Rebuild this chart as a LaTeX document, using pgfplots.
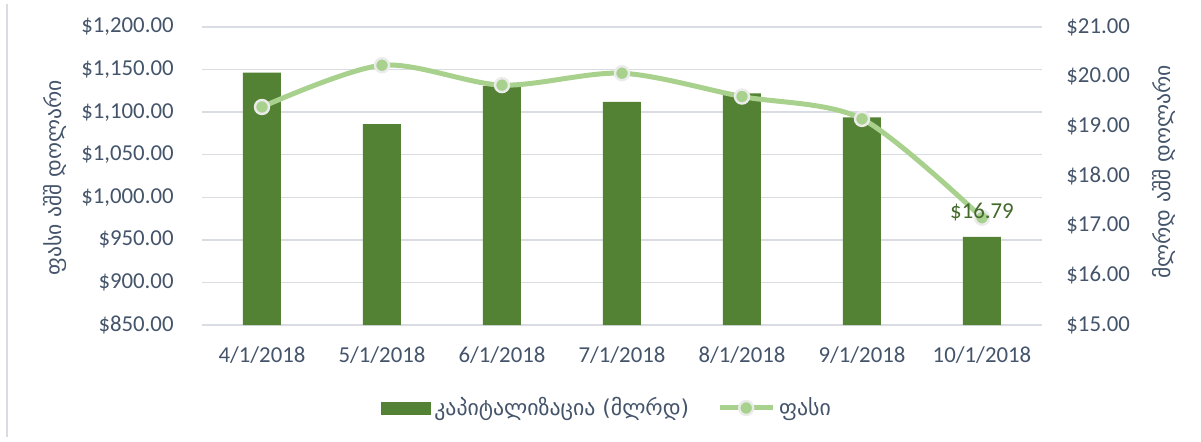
\documentclass[border=0pt]{standalone}
\usepackage{fontspec}
\setmainfont{Carlito}
\newfontfamily\geo{DejaVu Sans}
\usepackage{pgfplots}
\pgfplotsset{compat=1.18}
\definecolor{barc}{HTML}{548235}
\definecolor{lnc}{HTML}{A9D18E}
\definecolor{txt}{HTML}{44546A}
\definecolor{grd}{HTML}{D9DDE3}
\definecolor{lbl}{HTML}{43692B}
\pgfplotsset{
  lineleg/.style={legend image code/.code={\draw[mark repeat=2, mark phase=2, ##1] plot coordinates {(0pt,0pt) (13.25pt,0pt) (26.5pt,0pt)};}},
  barleg/.style={legend image code/.code={\fill[barc] (0pt,-3pt) rectangle (24.5pt,3pt);}},
  common/.style={
    at={(101pt,58pt)}, anchor=south west,
    scale only axis, width=420pt, height=149pt,
    xmin=-0.5, xmax=6.5,
    axis line style={draw=none},
    major tick length=0pt,
    tick label style={font=\fontsize{11.4}{13.5}\selectfont, text=txt},
    /pgf/number format/assume math mode=true,
    clip=false,
  }
}
\begin{document}
\begin{tikzpicture}
\useasboundingbox (0pt,0pt) rectangle (600.5pt,220.5pt);
\draw[grd, line width=0.6pt] (3.5pt,2pt) -- (3.5pt,218.5pt);
\begin{axis}[common,
  ymin=850, ymax=1200, ytick={850,900,...,1200},
  ymajorgrids, grid style={grd, line width=0.75pt},
  xtick={0,...,6},
  xticklabels={4/1/2018,5/1/2018,6/1/2018,7/1/2018,8/1/2018,9/1/2018,10/1/2018},
  xticklabel style={anchor=center, yshift=-15pt},
  yticklabel={\$\pgfmathprintnumber[fixed,fixed zerofill,precision=2,1000 sep={,}]{\tick}},
  yticklabel style={anchor=east, inner sep=0pt, xshift=-14pt},
  ylabel={ფასი აშშ დოლარი},
  ylabel style={at={(axis description cs:-0.175,0.493)}, anchor=center, font=\geo\fontsize{10.8}{12}\selectfont, text=txt},
]
\addplot[ybar, bar width=19pt, fill=barc, draw=none] coordinates {(0,1146.5) (1,1086) (2,1130.5) (3,1112) (4,1122) (5,1094) (6,953.5)};
\end{axis}
\begin{axis}[common,
  axis y line*=right, axis x line=none, xtick=\empty,
  ymin=15, ymax=21, ytick={15,...,21},
  yticklabel={\$\pgfmathprintnumber[fixed,fixed zerofill,precision=2]{\tick}},
  yticklabel style={anchor=west, inner sep=0pt, xshift=12pt},
  ylabel={მლრდ აშშ დოლარი},
  ylabel style={at={(axis description cs:1.1452,0.513)}, anchor=center, font=\geo\fontsize{10.8}{12}\selectfont, text=txt},
  legend style={at={(axis description cs:0.483,-0.2785)}, anchor=center, draw=none, fill=none,
    font=\geo\fontsize{10.9}{13}\selectfont, text=txt,
    /tikz/every even column/.append style={column sep=12pt}},
  legend columns=2, legend cell align=left,
]
\addlegendimage{barleg}
\addlegendentry{კაპიტალიზაცია (მლრდ)}
\addplot[smooth, lnc, line width=2.5pt, mark=*, mark size=3.5pt,
  mark options={fill=lnc, draw=white!92!black, line width=1.2pt}, lineleg]
  coordinates {(0,19.39) (1,20.23) (2,19.83) (3,20.07) (4,19.60) (5,19.15) (6,17.16)};
\addlegendentry{ფასი}
\addplot[draw=none, mark=none, nodes near coords={\$16.79},
  every node near coord/.append style={anchor=center, yshift=2.8pt, font=\fontsize{11.4}{13.5}\selectfont, text=lbl}]
  coordinates {(6,17.16)};
\end{axis}
\end{tikzpicture}
\end{document}
